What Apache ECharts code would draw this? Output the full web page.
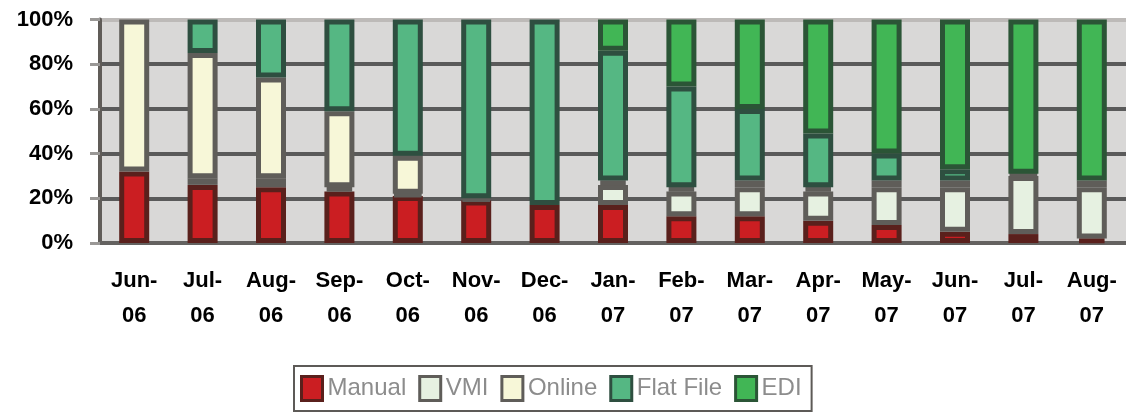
<!DOCTYPE html>
<html>
<head>
<meta charset="utf-8">
<title>Order channels</title>
<script src="https://cdn.jsdelivr.net/npm/echarts@6/dist/echarts.min.js"></script>
<style>
  html, body { margin: 0; padding: 0; background: #fff; }
  #chart { width: 1126px; height: 412px; }
</style>
</head>
<body>
<div id="chart"></div>
<script>
// 月份
var months = ['Jun-\n06', 'Jul-\n06', 'Aug-\n06', 'Sep-\n06', 'Oct-\n06', 'Nov-\n06', 'Dec-\n06',
  'Jan-\n07', 'Feb-\n07', 'Mar-\n07', 'Apr-\n07', 'May-\n07', 'Jun-\n07', 'Jul-\n07', 'Aug-\n07'];

// 各渠道占比 (%)
var manual = [32, 26, 25, 23, 21, 19, 17, 17, 12, 12, 10, 8, 5, 4, 2];
var vmi = [0, 3, 4, 2, 1, 1, 0, 9, 11, 13, 13, 17, 20, 26, 23];
var online = [68, 56, 45, 34, 17, 0, 0, 2, 2, 3, 2, 3, 3, 1, 3];
var flatFile = [0, 15, 26, 41, 61, 80, 83, 58, 45, 32, 24, 12, 5, 0, 0];
var edi = [0, 0, 0, 0, 0, 0, 0, 14, 30, 40, 51, 60, 67, 69, 72];

var yTicks = [0, 20, 40, 60, 80, 100];

var font = 'Arial, "Liberation Sans", sans-serif';

function makeSeries (name, values, color, border) {
  return {
    name: name,
    type: 'bar',
    stack: 'total',
    barWidth: 30,
    data: values.map(v => v === 0 ? '-' : v),
    itemStyle: {
      color: color,
      borderColor: border,
      borderWidth: 5,
    },
  };
}

var myChart = echarts.init(document.getElementById('chart'));

var option = {
  animation: false,
  backgroundColor: '#fff',
  grid: {
    left: 100,
    top: 19.5,
    right: 0,
    bottom: 169,
    show: true,
    backgroundColor: '#d9d8d7',
    borderWidth: 0,
  },
  legend: {
    left: 294,
    top: 366,
    padding: [9, 10, 9, 6],
    itemWidth: 21,
    itemHeight: 24,
    itemGap: 12,
    backgroundColor: '#fff',
    borderColor: '#5d5a57',
    borderWidth: 2,
    borderRadius: 0,
    icon: 'rect',
    itemStyle: {
      borderWidth: 3,
    },
    textStyle: {
      fontFamily: font,
      fontSize: 24,
      color: '#8c8c8c',
    },
    data: ['Manual', 'VMI', 'Online', 'Flat File', 'EDI'],
  },
  xAxis: {
    type: 'category',
    data: months,
    axisLine: {
      lineStyle: { color: '#646260', width: 4 },
    },
    axisTick: {
      length: 6,
      lineStyle: { color: '#8f8c8a', width: 4 },
    },
    axisLabel: {
      margin: 20,
      fontFamily: font,
      fontSize: 22,
      fontWeight: 'bold',
      color: '#000',
      lineHeight: 35,
      interval: 0,
    },
  },
  yAxis: {
    type: 'value',
    min: yTicks[0],
    max: yTicks[yTicks.length - 1],
    interval: 20,
    axisLine: {
      show: true,
      lineStyle: { color: '#605c58', width: 4 },
    },
    axisTick: {
      show: true,
      length: 10,
      lineStyle: { color: '#9a9896', width: 3 },
    },
    axisLabel: {
      margin: 27,
      formatter: '{value}%',
      fontFamily: font,
      fontSize: 22,
      fontWeight: 'bold',
      color: '#000',
    },
    splitLine: {
      lineStyle: {
        color: ['#5a5a5a', '#5a5a5a', '#5a5a5a', '#5a5a5a', '#5a5a5a', '#bdbab8'],
        width: 4,
      },
    },
  },
  series: [
    makeSeries('Manual', manual, '#cb1e22', '#5a201c'),
    makeSeries('VMI', vmi, '#e6f1e1', '#5f5d59'),
    makeSeries('Online', online, '#f7f7d8', '#5f5d59'),
    makeSeries('Flat File', flatFile, '#55b783', '#2e4f40'),
    makeSeries('EDI', edi, '#41b655', '#2b5536'),
  ],
};

myChart.setOption(option);
</script>
</body>
</html>
